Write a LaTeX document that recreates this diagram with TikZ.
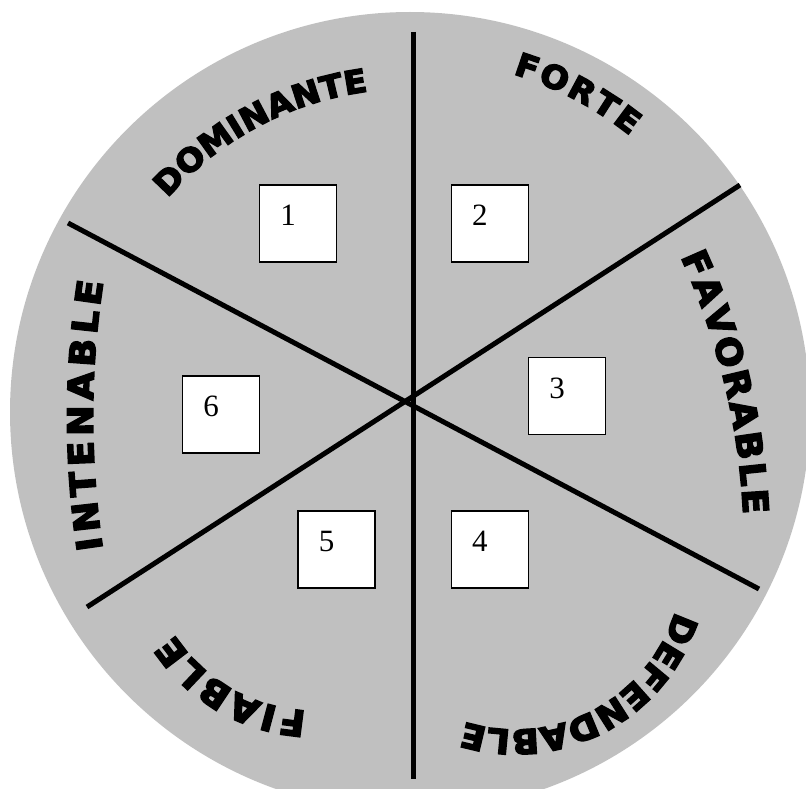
\documentclass[tikz,border=0pt]{standalone}
\usepackage{fontspec}
\usetikzlibrary{decorations.text}
\setmainfont{Liberation Serif}
\newfontfamily\heavy{DejaVu Sans Bold}[FakeBold=4.5, FakeStretch=1.05]
\definecolor{wheelgray}{RGB}{192,192,192}
\begin{document}
\begin{tikzpicture}[x=1pt,y=1pt,
  divline/.style={line width=5pt, draw=black},
  numbox/.style={draw=black, line width=1.5pt, fill=white, minimum width=77pt, minimum height=77pt, inner sep=0pt},
  numtxt/.style={font=\fontsize{31}{31}\selectfont, inner sep=0pt},
  arclabel/.style n args={3}{decorate, decoration={text along path, text={|\heavy\fontsize{#2}{#2}\selectfont|#1}, text align={fit to path}, raise=#3}}
]
\useasboundingbox (0,-789) rectangle (806,0);
\clip (0,-789) rectangle (806,0);
% wheel
\fill[wheelgray] (410,-412) circle[radius=400pt];
% dividing lines
\coordinate (vt) at (413,-32);
\coordinate (vb) at (413,-779);
\coordinate (at) at (68,-223);
\coordinate (ab) at (759,-589);
\coordinate (bt) at (740,-185);
\coordinate (bb) at (87,-607);
\draw[divline] (vt) -- (vb);
\draw[divline] (at) -- (ab);
\draw[divline] (bt) -- (bb);
% boxes
\node[numbox] (b1) at (298,-223.5) {};
\node[numbox] (b2) at (489.75,-223.5) {};
\node[numbox] (b3) at (567,-396) {};
\node[numbox] (b4) at (489.75,-549.5) {};
\node[numbox] (b5) at (336.5,-549.5) {};
\node[numbox] (b6) at (221,-414.5) {};
\node[numtxt] (n1) at ([shift={(-10,8)}]b1.center) {1};
\node[numtxt] (n2) at ([shift={(-10,8)}]b2.center) {2};
\node[numtxt] (n3) at ([shift={(-10,8)}]b3.center) {3};
\node[numtxt] (n4) at ([shift={(-10,8)}]b4.center) {4};
\node[numtxt] (n5) at ([shift={(-10,8)}]b5.center) {5};
\node[numtxt] (n6) at ([shift={(-10,8)}]b6.center) {6};
% arched labels
\path[arclabel={DOMINANTE}{32}{-11.7pt}] (410,-412) ++(138.5:335pt) arc[start angle=138.5, end angle=97.5, radius=335pt];
\path[arclabel={FORTE}{32}{-11.7pt}] (410,-412) ++(73:365pt) arc[start angle=73, end angle=51.5, radius=365pt];
\path[arclabel={FAVORABLE}{35}{-12.8pt}] (50,-547) ++(24.7:707pt) arc[start angle=24.7, end angle=2.7, radius=707pt];
\path[arclabel={DEFENDABLE}{34}{-12.4pt}] (515,-562) ++(-17.4:180pt) arc[start angle=-17.4, end angle=-107.3, radius=180pt];
\path[arclabel={FIABLE}{36}{-13.1pt}] (315,-543) ++(-93.2:181pt) arc[start angle=-93.2, end angle=-146.8, radius=181pt];
\path[arclabel={INTENABLE}{35}{-12.8pt}] (975,-417) ++(188.6:895pt) arc[start angle=188.6, end angle=171.2, radius=895pt];
\end{tikzpicture}
\end{document}
